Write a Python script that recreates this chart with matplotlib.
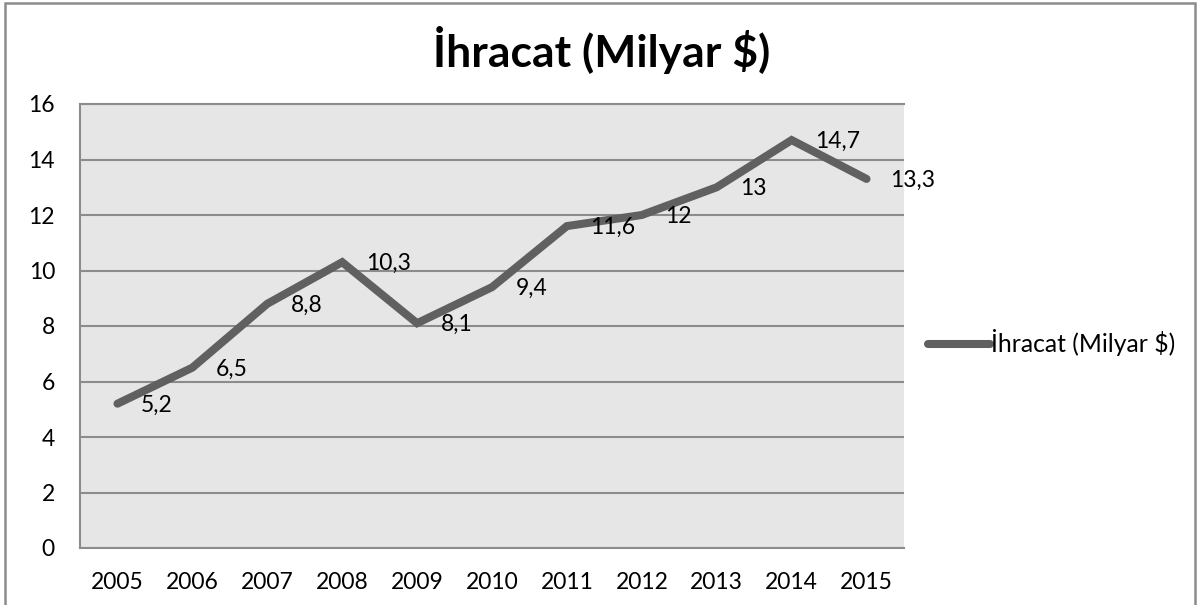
import matplotlib
matplotlib.use("Agg")
import matplotlib.pyplot as plt
from matplotlib.patches import Rectangle

years = ["2005", "2006", "2007", "2008", "2009", "2010", "2011", "2012", "2013", "2014", "2015"]
values = [5.2, 6.5, 8.8, 10.3, 8.1, 9.4, 11.6, 12.0, 13.0, 14.7, 13.3]
labels = ["5,2", "6,5", "8,8", "10,3", "8,1", "9,4", "11,6", "12", "13", "14,7", "13,3"]
title = "İhracat (Milyar $)"
yticks = [0, 2, 4, 6, 8, 10, 12, 14, 16]

plt.rcParams['font.family'] = ['Lato', 'DejaVu Sans']

W, H = 1203, 605
fig = plt.figure(figsize=(W / 100, H / 100), dpi=100)
ax = fig.add_axes([80 / W, 1 - 548 / H, (904 - 80) / W, (548 - 104) / H])

grid_c = "#8c8c8c"
line_c = "#606060"
fs = 16.5
ax.set_facecolor("#e6e6e6")
x = list(range(len(years)))
ax.plot(x, values, color=line_c, lw=5.8, solid_capstyle="round",
        solid_joinstyle="miter", label=title, zorder=3)
for xi, v, t in zip(x, values, labels):
    ax.annotate(t, (xi, v), xytext=(17, -1), textcoords="offset points",
                ha="left", va="center", fontsize=fs, color="#000000", zorder=4)

ax.set_xlim(-0.5, len(years) - 0.5)
ax.set_ylim(0, 16)
ax.set_yticks(yticks)
ax.set_yticklabels([str(v) for v in yticks])
ax.set_xticks(x)
ax.set_xticklabels(years)
ax.tick_params(axis="both", length=0, labelsize=fs, colors="#000000")
ax.tick_params(axis="y", pad=18)
ax.tick_params(axis="x", pad=17)
ax.grid(axis="y", color=grid_c, lw=1.5)
ax.set_axisbelow(True)
for side in ["left", "top", "bottom"]:
    ax.spines[side].set_color(grid_c)
    ax.spines[side].set_linewidth(1.5)
ax.spines["right"].set_visible(False)

fig.text(0.5 * (433 + 770) / W, 1 - 50 / H, title, ha="center", va="center",
         fontsize=32, fontweight="bold", color="#000000")

leg = fig.legend(loc="center left", bbox_to_anchor=(928 / W, 1 - 343 / H),
                 frameon=False, fontsize=17.8, handlelength=2.5, handletextpad=0.05,
                 borderpad=0, borderaxespad=0)

border = Rectangle((5 / W, -0.05), (1195 - 5) / W, 1.05 - 3 / H, transform=fig.transFigure,
                   fill=False, edgecolor="#8c8c8c", lw=1.8, clip_on=False)
fig.patches.append(border)

fig.savefig("out.png", dpi=100, facecolor="white")
